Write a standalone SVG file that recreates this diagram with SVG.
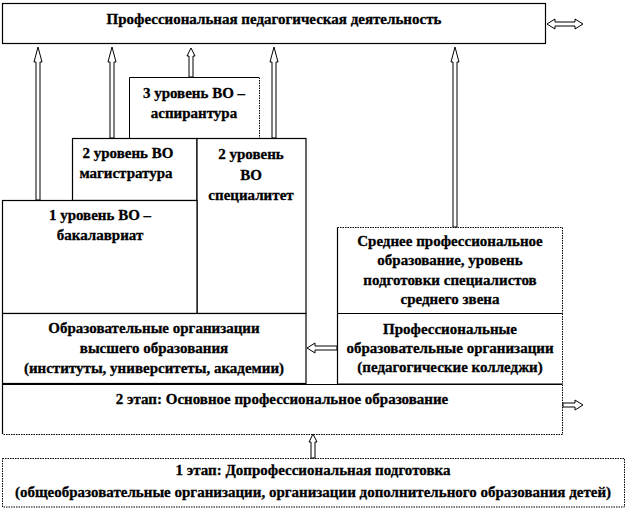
<svg xmlns="http://www.w3.org/2000/svg" width="628" height="510" viewBox="0 0 628 510">
<style>
.box{fill:#fff;stroke:#000;stroke-width:1.2}
.dot{fill:none;stroke:#000;stroke-width:1;stroke-dasharray:1.5 1}
.t{font-family:"Liberation Serif","DejaVu Serif",serif;font-weight:bold;font-size:15px;fill:#000;stroke:#000;stroke-width:0.3;text-anchor:middle}
.arr{fill:#fff;stroke:#000;stroke-width:1;stroke-linejoin:miter}
</style>
<rect width="628" height="510" fill="#fff"/>
<g id="connectors">
<polygon class="arr" points="38,47 42,62 40,62 40,200 36,200 36,62 34,62"/>
<polygon class="arr" points="112,47 116,62 114,62 114,138 110,138 110,62 108,62"/>
<polygon class="arr" points="191,48 195,56 193,56 193,77 189,77 189,56 187,56"/>
<polygon class="arr" points="274,47 278,62 276,62 276,138 272,138 272,62 270,62"/>
<polygon class="arr" points="455,47 459,62 457,62 457,227 453,227 453,62 451,62"/>
<polygon class="arr" points="547,24 555,19 555,22 575,22 575,19 583,24 575,29 575,26 555,26 555,29"/>
<polygon class="arr" points="307,348 315,343 315,346 337,346 337,350 315,350 315,353"/>
<polygon class="arr" points="583,405 575,400 575,403 563,403 563,407 575,407 575,410"/>
<polygon class="arr" points="313,434 317,442 315,442 315,458 311,458 311,442 309,442"/>
</g>
<g id="top">
<rect class="box" x="2.5" y="3.5" width="543" height="40"/>
<text class="t" x="274" y="24">Профессиональная педагогическая деятельность</text>
</g>
<g id="level3">
<path d="M129.5,138 V77.5 H259" fill="#fff" stroke="#000" stroke-width="1"/>
<path class="dot" d="M259.5,77.5 V138"/>
<text class="t" x="194" y="98">3 уровень ВО  –</text>
<text class="t" x="194" y="118">аспирантура</text>
</g>
<g id="magistr">
<rect class="box" x="72.5" y="138.5" width="124.5" height="62"/>
<text class="t" x="128" y="158">2 уровень ВО</text>
<text class="t" x="126" y="178">магистратура</text>
</g>
<g id="special">
<rect class="box" x="197" y="138.5" width="109" height="175"/>
<text class="t" x="251" y="159">2 уровень</text>
<text class="t" x="251" y="180">ВО</text>
<text class="t" x="251" y="200">специалитет</text>
</g>
<g id="bakalavr">
<rect class="box" x="2.5" y="200.5" width="194.5" height="113"/>
<text class="t" x="100" y="220">1 уровень ВО  –</text>
<text class="t" x="100" y="240">бакалавриат</text>
</g>
<g id="vuz">
<rect class="box" x="2.5" y="313.5" width="303.5" height="70"/>
<text class="t" x="154" y="333">Образовательные организации</text>
<text class="t" x="154" y="353">высшего образования</text>
<text class="t" x="154" y="373">(институты, университеты, академии)</text>
</g>
<g id="spo">
<path d="M337.5,313 V227.5" stroke="#000" stroke-width="1.2" fill="none"/>
<path class="dot" d="M337.5,227.5 H562.5 V313"/>
<text class="t" x="450" y="246">Среднее профессиональное</text>
<text class="t" x="450" y="265">образование, уровень</text>
<text class="t" x="450" y="285">подготовки специалистов</text>
<text class="t" x="450" y="304">среднего звена</text>
</g>
<g id="college">
<path d="M562.5,313.5 H337.5 V384 H562.5" stroke="#000" stroke-width="1.2" fill="none"/>
<path class="dot" d="M562.5,313.5 V384"/>
<text class="t" x="450" y="334">Профессиональные</text>
<text class="t" x="450" y="353">образовательные организации</text>
<text class="t" x="450" y="372">(педагогические колледжи)</text>
</g>
<g id="stage2">
<path d="M2.5,434 V384.5 H562" stroke="#000" stroke-width="1.2" fill="none"/>
<path class="dot" d="M562.5,384.5 V434.5 H2.5"/>
<text class="t" x="282" y="404">2 этап: Основное профессиональное образование</text>
</g>
<g id="stage1">
<rect class="dot" x="2.5" y="458.5" width="622" height="48.5"/>
<text class="t" x="313" y="475">1 этап: Допрофессиональная подготовка</text>
<text class="t" x="313" y="497">(общеобразовательные организации, организации дополнительного образования детей)</text>
</g>
</svg>
